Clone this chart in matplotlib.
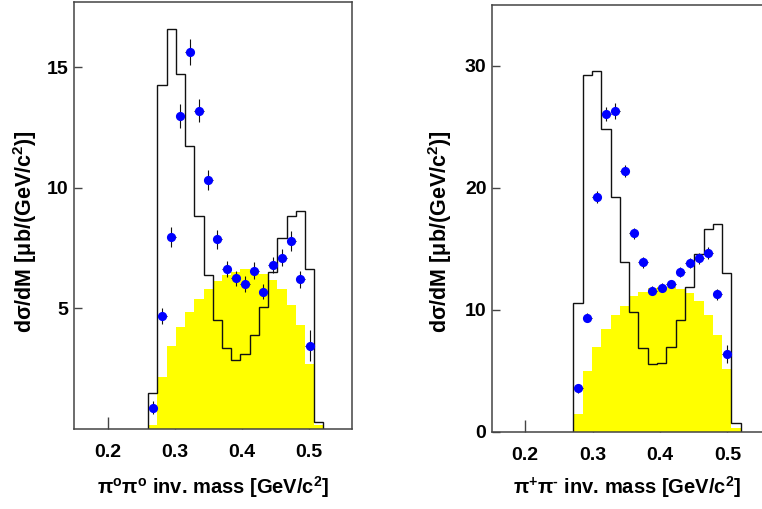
import numpy as np
import matplotlib
matplotlib.use('Agg')
import matplotlib.pyplot as plt

plt.rcParams['font.family'] = ['Liberation Sans', 'DejaVu Sans']
plt.rcParams['font.weight'] = 'bold'
plt.rcParams['mathtext.fontset'] = 'custom'
plt.rcParams['mathtext.rm'] = 'Liberation Sans:bold'
plt.rcParams['mathtext.it'] = 'Liberation Sans:bold'
plt.rcParams['mathtext.bf'] = 'Liberation Sans:bold'

#%% pi0 pi0 (painel esquerdo)
lo_00, bw_00 = 0.2601, 0.01375
model_00 = [1.50, 14.25, 16.58, 14.71, 11.72, 8.82, 6.38, 4.51, 3.35, 2.87,
            3.10, 3.88, 5.07, 6.49, 7.90, 8.85, 9.03, 6.63, 0.30]
phsp_00 = [0.16, 2.17, 3.44, 4.24, 4.86, 5.37, 5.80, 6.13, 6.38, 6.52,
           6.62, 6.55, 6.41, 6.17, 5.80, 5.14, 4.31, 2.68, 0.16]
data_00 = [0.89, 4.67, 7.96, 12.98, 15.62, 13.19, 10.32, 7.86, 6.65,
           6.24, 6.02, 6.56, 5.69, 6.78, 7.10, 7.78, 6.20, 3.46]
err_00 = [0.25, 0.33, 0.40, 0.51, 0.54, 0.48, 0.41, 0.40, 0.33,
          0.33, 0.33, 0.36, 0.30, 0.33, 0.36, 0.41, 0.37, 0.66]

#%% pi+ pi- (painel direito)
lo_pm, bw_pm = 0.2716, 0.01378
model_pm = [10.55, 29.3, 29.6, 24.8, 19.26, 13.9, 9.8, 6.9, 5.57, 5.63,
            6.99, 9.18, 11.86, 14.6, 16.64, 17.02, 13.0, 0.71]
phsp_pm = [1.45, 5.03, 7.0, 8.42, 9.56, 10.33, 11.15, 11.5, 11.78, 11.91,
           11.86, 11.7, 11.42, 10.76, 9.59, 7.95, 5.14, 0.35]
data_pm = [3.58, 9.37, 19.24, 26.07, 26.3, 21.42, 16.28, 13.9, 11.58,
           11.83, 12.13, 13.09, 13.83, 14.24, 14.7, 11.29, 6.42]
err_pm = [0.35, 0.35, 0.5, 0.6, 0.65, 0.48, 0.45, 0.44, 0.35,
          0.35, 0.35, 0.4, 0.42, 0.45, 0.5, 0.45, 0.75]

ylabel = r'd$\mathregular{\sigma}$/dM [$\mathregular{\mu}$b/(GeV/c$^{2}$)]'


def painel(ax, lo, bw, model, phsp, data, err, ylim, yticks, xlabel, xlim):
    edges = lo + bw * np.arange(len(model) + 1)
    centers = lo + bw * (np.arange(len(data)) + 0.5)
    ax.stairs(phsp, edges, fill=True, color='#ffff00', lw=0, zorder=1)
    ax.stairs(model, edges, color='#111111', lw=1.0, baseline=0, zorder=2)
    ax.errorbar(centers, data, yerr=err, xerr=bw / 2, fmt='o', color='#0000ff',
                ecolor='#111111', elinewidth=0.8, capsize=0, markersize=6.6,
                markeredgewidth=0, zorder=3)
    ax.set_xlim(*xlim)
    ax.set_ylim(*ylim)
    ax.set_xticks([0.2, 0.3, 0.4, 0.5])
    ax.set_xticklabels(['0.2', '0.3', '0.4', '0.5'])
    ax.set_yticks(yticks)
    ax.set_axisbelow(True)
    ax.tick_params(axis='x', direction='in', length=8.6, width=1, color='#444444',
                   labelsize=14, pad=11)
    ax.tick_params(axis='y', direction='in', length=6, width=1, color='#444444',
                   labelsize=14, pad=4)
    for s in ax.spines.values():
        s.set_color('#444444')
        s.set_linewidth(1.1)
    ax.set_xlabel(xlabel, fontsize=14.5, fontweight='bold')
    ax.set_ylabel(ylabel, fontsize=15.5, fontweight='bold')


fig = plt.figure(figsize=(7.62, 5.09), dpi=100)
ax1 = fig.add_axes([74 / 762, 80 / 509, 278 / 762, 427 / 509])
ax2 = fig.add_axes([492 / 762, 77 / 509, 278 / 762, 427 / 509])

painel(ax1, lo_00, bw_00, model_00, phsp_00, data_00, err_00, (0, 17.7), [5, 10, 15],
       r'$\mathregular{\pi^{o}\pi^{o}}$ inv. mass [GeV/c$^{2}$]', (0.1495, 0.564))
painel(ax2, lo_pm, bw_pm, model_pm, phsp_pm, data_pm, err_pm, (0, 35), [0, 10, 20, 30],
       r'$\mathregular{\pi^{+}\pi^{\text{-}}}$ inv. mass [GeV/c$^{2}$]', (0.151, 0.563))

ax1.xaxis.set_label_coords(0.5, -58 / 427)
ax1.xaxis.label.set_va('center')
ax2.xaxis.set_label_coords((627 - 492) / 278, -55 / 427)
ax2.xaxis.label.set_va('center')
ax1.yaxis.set_label_coords(-49 / 278, 197 / 427)
ax1.yaxis.label.set_va('center')
ax2.yaxis.set_label_coords(-52 / 278, 200 / 427)
ax2.yaxis.label.set_va('center')

fig.savefig('out.png', dpi=100)
